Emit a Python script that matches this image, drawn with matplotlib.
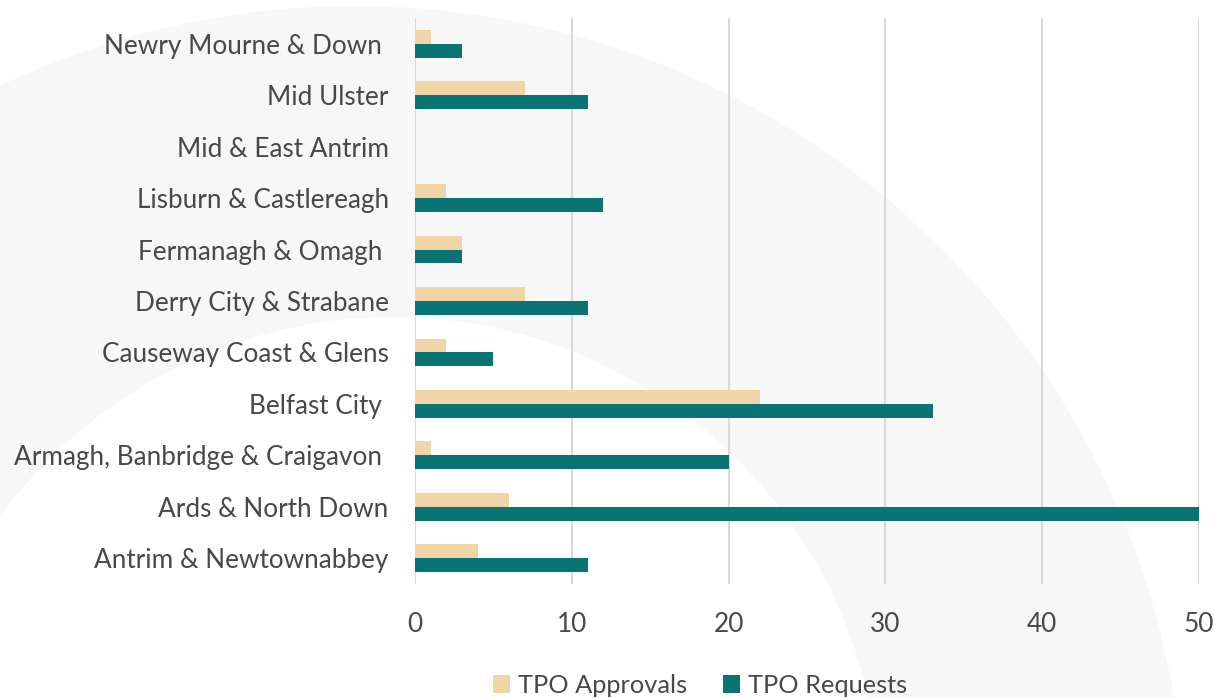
import matplotlib
matplotlib.use("Agg")
import matplotlib.pyplot as plt
from matplotlib.patches import Circle
import numpy as np

# council areas, bottom to top as drawn
councils = [
    "Antrim & Newtownabbey",
    "Ards & North Down",
    "Armagh, Banbridge & Craigavon ",
    "Belfast City ",
    "Causeway Coast & Glens",
    "Derry City & Strabane",
    "Fermanagh & Omagh ",
    "Lisburn & Castlereagh",
    "Mid & East Antrim",
    "Mid Ulster",
    "Newry Mourne & Down ",
]
approvals = [4, 6, 1, 22, 2, 7, 3, 2, 0, 7, 1]
requests = [11, 50, 20, 33, 5, 11, 3, 12, 0, 11, 3]
x_ticks = [0, 10, 20, 30, 40, 50]

c_appr = "#F1D4A8"
c_req = "#0A7373"
txt = "#484848"

plt.rcParams['font.family'] = ['Lato', 'DejaVu Sans']

fig = plt.figure(figsize=(12.15, 6.98), dpi=100)

# decorative background ring
bg = fig.add_axes([0, 0, 1, 1], zorder=0)
bg.set_xlim(0, 1215)
bg.set_ylim(698, 0)
bg.axis("off")
bg.add_patch(Circle((355, 837), 831, color="#f7f7f7", lw=0))
bg.add_patch(Circle((393, 804), 487, color="white", lw=0))

ax = fig.add_axes([0.3416, 0.1633, 0.6453, 0.8109], zorder=1)
ax.set_facecolor("none")

y = np.arange(len(councils))
h = 0.27
ax.barh(y + h / 2, approvals, height=h, color=c_appr, label="TPO Approvals", zorder=3)
ax.barh(y - h / 2, requests, height=h, color=c_req, label="TPO Requests", zorder=3)

ax.set_xlim(0, 50)
ax.set_ylim(-0.5, len(councils) - 0.5)
ax.set_xticks(x_ticks)
ax.set_yticks(y)
ax.set_yticklabels(councils)
ax.tick_params(axis="y", length=0, pad=19, labelsize=18.8, labelcolor=txt)
ax.tick_params(axis="x", length=0, pad=20, labelsize=18.8, labelcolor=txt)
ax.grid(axis="x", color="#d9d9d9", lw=1.5, zorder=0)
for s in ["top", "right", "bottom", "left"]:
    ax.spines[s].set_visible(False)

leg = fig.legend(loc="center", bbox_to_anchor=(0.576, 0.018), ncol=2, frameon=False,
                 fontsize=18.3, handlelength=0.7, handleheight=0.7, columnspacing=1.4,
                 handletextpad=0.3)
for t in leg.get_texts():
    t.set_color(txt)

fig.savefig("out.png", dpi=100)
